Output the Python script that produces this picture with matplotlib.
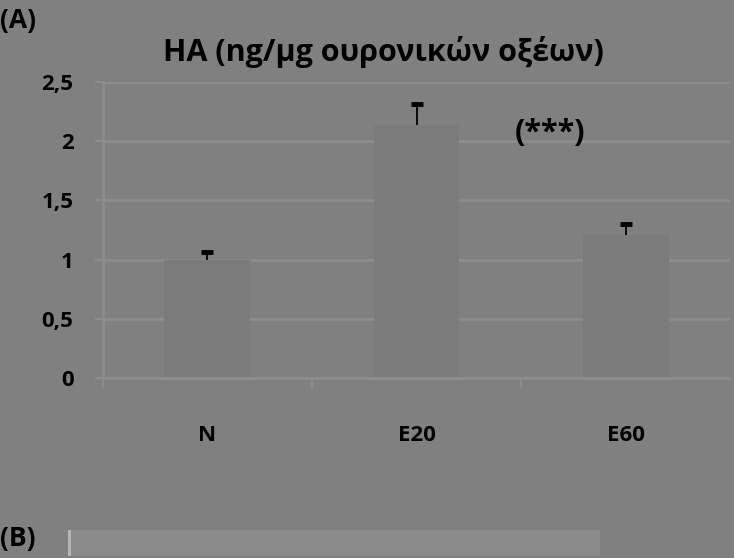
import numpy as np
import matplotlib.pyplot as plt
from matplotlib.patches import Rectangle

# data
groups = ['N', 'E20', 'E60']
values = [1.0, 2.14, 1.21]
errors = [0.06, 0.17, 0.09]
yticks = [0, 0.5, 1, 1.5, 2, 2.5]
ytick_labels = ['0', '0,5', '1', '1,5', '2', '2,5']

bg = '#808080'
plt.rcParams['font.family'] = ['Open Sans', 'DejaVu Sans']

fig = plt.figure(figsize=(7.34, 5.58), dpi=100, facecolor=bg)
ax = fig.add_axes([0.140, 0.3226, 0.855, 0.5305], facecolor=bg)

x = np.arange(len(groups))
tops = np.array(values) + np.array(errors)
ax.bar(x, values, width=0.41, color='#7b7b7b', zorder=2)
# upper error bars only (T shape)
ax.vlines(x, values, tops, color='black', linewidth=1.3, zorder=3)
ax.plot(x, tops, linestyle='none', marker='_', markersize=9,
        markeredgewidth=3.5, color='black', zorder=3)

ax.set_xlim(-0.5, 2.5)
ax.set_ylim(0, 2.5)
ax.set_yticks(yticks)
ax.set_yticklabels(ytick_labels, fontsize=16, fontweight='bold')
ax.yaxis.grid(True, color='#8d8d8d', linewidth=2, zorder=0)
ax.set_axisbelow(True)

ax.set_xticks([-0.5, 0.5, 1.5])
ax.set_xticklabels([])
ax.set_xticks(x, minor=True)
ax.set_xticklabels(groups, minor=True, fontsize=16, fontweight='bold')
ax.tick_params(axis='x', which='minor', length=0, pad=34)
ax.tick_params(axis='x', which='major', length=7, color='#8d8d8d', width=1.5)
ax.tick_params(axis='y', length=6, color='#8d8d8d', width=1.5, pad=15)

for s in ['top', 'right']:
    ax.spines[s].set_visible(False)
ax.spines['left'].set_color('#8d8d8d')
ax.spines['left'].set_linewidth(2)
ax.spines['bottom'].set_color('#8d8d8d')
ax.spines['bottom'].set_linewidth(2)

ax.text(1.64, 2.07, '(***)', fontsize=22, fontweight='bold', ha='center', va='center')

fig.text(0.522, 0.907, 'HA (ng/μg ουρονικών οξέων)', fontsize=22, fontweight='bold',
         ha='center', va='center')
fig.text(0.0, 0.963, '(A)', fontsize=19, fontweight='bold', ha='left', va='center')
fig.text(0.0, 0.035, '(B)', fontsize=19, fontweight='bold', ha='left', va='center')

# strip of panel B
fig.patches.append(Rectangle((68 / 734, 2 / 558), 532 / 734, 26 / 558,
                             transform=fig.transFigure, facecolor='#8a8a8a',
                             edgecolor='none'))
fig.patches.append(Rectangle((68 / 734, 2 / 558), 3 / 734, 26 / 558,
                             transform=fig.transFigure, facecolor='#b5b5b5',
                             edgecolor='none'))

fig.savefig('out.png', dpi=100, facecolor=bg)
